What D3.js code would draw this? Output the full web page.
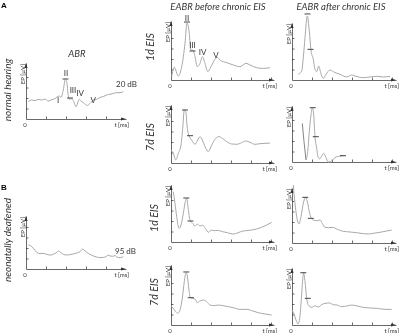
<!DOCTYPE html>
<html>
<head>
<meta charset="utf-8">
<script src="https://cdn.jsdelivr.net/npm/d3@7"></script>
<style>
  body { margin: 0; background: #fff; }
  svg { display: block; will-change: transform; }
  svg text { opacity: 0.99; }
</style>
</head>
<body>
<svg class="chart" width="400" height="333"></svg>
<script>
// waveforms: [time in ms, amplitude in µV units]
const abrNormal = [[0.23,1.65],[0.57,1.81],[0.9,1.75],[1.23,1.87],[1.57,1.81],[1.9,1.9],[2.23,1.71],[2.57,1.84],[2.9,1.94],[3.13,2.13],[3.33,2.19],[3.5,2.06],[3.73,2.76],[3.93,3.78],[4.07,3.56],[4.2,2.44],[4.33,1.87],[4.5,1.94],[4.73,1.75],[5.0,1.17],[5.2,1.65],[5.33,1.87],[5.5,1.71],[5.73,1.56],[6.13,1.3],[6.4,1.49],[6.73,1.81],[7.07,1.87],[7.4,2.06],[7.73,2.13],[8.07,2.29],[8.4,2.35],[8.73,2.44],[9.07,2.51],[9.4,2.51],[9.73,2.6]];
const abrDeaf = [[0.23,2.29],[0.47,2.22],[0.73,1.97],[1.07,1.59],[1.4,1.46],[1.73,1.49],[2.07,1.4],[2.4,1.33],[2.73,1.4],[3.07,1.59],[3.23,1.71],[3.5,1.56],[3.73,1.4],[4.07,1.33],[4.4,1.37],[4.73,1.43],[5.07,1.52],[5.4,1.65],[5.67,1.9],[5.8,1.81],[6.07,1.59],[6.4,1.4],[6.73,1.24],[7.07,1.14],[7.4,1.08],[7.73,1.11],[8.0,1.17],[8.2,1.33],[8.4,1.24],[8.73,1.21],[8.9,1.3],[9.07,1.14],[9.4,1.08],[9.73,1.17]];
const before1dA = [[0.07,0.32],[0.33,1.21],[0.73,0.38],[1.07,1.27],[1.4,3.49],[1.6,5.43],[1.83,4.44],[1.97,2.86],[2.17,2.86],[2.4,2.22],[2.63,1.27],[2.9,1.59],[3.13,2.22],[3.4,1.59],[3.67,0.79],[4.0,1.27],[4.4,1.97],[4.63,2.16],[4.9,1.9],[5.57,1.65],[6.23,1.43],[6.9,1.27],[7.5,1.59],[7.9,1.43],[8.57,1.17],[9.23,1.11],[9.9,1.17]];
const before7dA = [[0.0,1.24],[0.23,0.92],[0.47,0.29],[0.73,0.92],[1.0,1.71],[1.17,3.3],[1.33,5.05],[1.47,4.95],[1.63,3.3],[1.77,2.67],[2.07,2.19],[2.4,1.78],[2.67,2.19],[2.9,2.51],[3.13,2.19],[3.4,1.56],[3.73,1.08],[4.07,1.71],[4.47,2.35],[4.8,2.51],[5.13,2.35],[5.57,2.03],[6.07,1.81],[6.57,1.78],[7.07,1.94],[7.47,2.1],[7.9,1.97],[8.4,1.78],[8.9,1.84],[9.4,1.87],[9.9,1.9]];
const after1dA = [[0.63,0.54],[0.97,0.86],[1.13,2.12],[1.3,4.03],[1.53,6.1],[1.73,4.67],[1.9,2.83],[2.13,1.97],[2.3,1.02],[2.47,0.79],[2.67,1.33],[2.87,0.7],[3.13,0.16],[3.4,0.54],[3.8,0.95],[4.13,0.79],[4.8,0.54],[5.47,0.29],[5.97,0.48],[6.3,0.38],[7.13,0.22],[7.8,0.29],[8.47,0.35],[9.13,0.29],[9.8,0.35]];
const after7dAStart = [[1.03,3.68],[1.2,1.94],[1.4,0.19]];
const after7dA = [[1.4,0.19],[1.57,0.98],[1.73,2.89],[1.9,4.48],[2.03,5.17],[2.17,4.48],[2.3,2.41],[2.47,1.3],[2.6,0.5],[2.77,0.29],[2.93,0.5],[3.17,0.83],[3.4,0.41],[3.63,0.0],[3.87,0.03],[4.13,0.29],[4.47,0.5],[4.8,0.57],[5.13,0.6]];
const before1dB = [[0.23,4.79],[0.4,3.68],[0.57,2.41],[0.8,1.3],[0.97,1.52],[1.23,2.73],[1.43,3.84],[1.57,4.16],[1.73,3.11],[1.9,2.1],[2.17,1.78],[2.4,1.52],[2.63,1.71],[2.9,1.52],[3.17,1.59],[3.43,1.3],[3.77,0.92],[4.0,1.14],[4.33,1.08],[4.67,1.11],[5.17,0.98],[5.63,0.89],[6.17,0.76],[6.57,0.83],[7.07,1.02],[7.57,1.08],[8.07,1.14],[8.57,1.24],[9.07,1.4],[9.57,1.62],[10.07,1.87]];
const before7dB = [[0.0,1.81],[0.23,1.59],[0.47,1.27],[0.67,1.11],[0.9,1.43],[1.13,2.54],[1.33,4.13],[1.5,4.98],[1.63,4.67],[1.8,3.33],[1.93,2.6],[2.17,2.54],[2.43,2.44],[2.63,2.13],[2.9,2.29],[3.23,2.38],[3.57,2.22],[3.9,1.9],[4.23,1.84],[4.73,1.9],[5.23,1.84],[5.73,1.75],[6.23,1.65],[6.9,1.49],[7.57,1.49],[8.07,1.37],[8.73,1.17],[9.4,1.05],[10.07,0.95]];
const after1dB = [[0.13,5.52],[0.3,3.78],[0.47,2.5],[0.7,1.81],[0.9,2.5],[1.13,3.78],[1.37,4.35],[1.57,3.78],[1.73,2.98],[1.93,2.35],[2.13,2.19],[2.47,2.12],[2.8,2.19],[3.03,1.87],[3.3,1.49],[3.63,1.46],[4.07,1.49],[4.53,1.3],[5.13,1.11],[5.8,1.05],[6.47,0.98],[7.13,0.89],[7.63,0.86],[8.13,0.92],[8.8,1.02],[9.47,1.14],[9.97,1.24]];
const after7dB = [[0.0,1.43],[0.2,1.05],[0.4,0.48],[0.6,0.1],[0.77,0.63],[0.93,2.38],[1.1,4.6],[1.17,4.98],[1.3,4.13],[1.47,2.54],[1.7,1.81],[1.97,1.68],[2.3,1.84],[2.63,1.71],[2.97,1.94],[3.3,2.06],[3.73,2.1],[4.13,1.94],[4.53,1.9],[4.97,1.75],[5.47,1.81],[5.97,1.9],[6.53,1.81],[7.13,1.68],[7.8,1.62],[8.47,1.59],[9.3,1.49],[9.97,1.49]];

// latency markers (peak II and III), [ms, µV]
const abrNormalMarks = [[3.95,3.81],[4.4,2.0]];
const before1dAMarks = [[1.6,5.52],[2.15,2.76]];
const before7dAMarks = [[1.4,5.05],[1.9,2.6]];
const after1dAMarks = [[1.55,6.29],[1.85,2.92]];
const after7dAMarks = [[2.07,5.17],[2.38,2.41],[5.1,0.6]];
const before1dBMarks = [[1.53,4.19],[1.95,2.0]];
const before7dBMarks = [[1.53,5.05],[1.98,2.6]];
const after1dBMarks = [[1.33,4.35],[1.88,2.35]];
const after7dBMarks = [[1.13,4.98],[1.58,2.54]];

// wave names and label positions
const abrWaves = ["I", "II", "III", "IV", "V"];
const abrWavePos = [[3.2,1.52],[4.0,4.1],[4.7,2.48],[5.4,2.19],[6.73,1.52]];
const eabrWaves = ["II", "III", "IV", "V"];
const eabrWavePos = [[1.6,5.62],[2.15,3.05],[3.17,2.38],[4.5,2.1]];

const xTicks = [2, 4, 6, 8, 10];
const yTicks = [1, 2, 3, 4];

const svg = d3.select(".chart");
const textColor = "#333";
const font = "Lato, 'Open Sans', sans-serif";

function drawPanel(p) {
  const x = d3.scaleLinear().domain([0, (p.right - p.left) / 10]).range([p.left, p.right]);
  const y = d3.scaleLinear().domain([0, (p.bottom - p.top) / 10.5]).range([p.bottom, p.top]);
  const g = svg.append("g");

  // axes with inward ticks
  g.append("g").attr("transform", `translate(0,${p.bottom})`)
    .call(d3.axisBottom(x).tickValues(xTicks.filter(t => x(t) < p.right - 2))
      .tickSize(-2.5).tickSizeOuter(0).tickFormat(""));
  g.append("g").attr("transform", `translate(${p.left},0)`)
    .call(d3.axisLeft(y).tickValues(yTicks.filter(t => y(t) > p.top + 4))
      .tickSize(-2.5).tickSizeOuter(0).tickFormat(""));
  g.selectAll(".domain, .tick line").attr("stroke", "#444").attr("stroke-width", 0.8);

  // arrow heads
  g.append("path")
    .attr("d", `M${p.left - 1.6},${p.top + 5}L${p.left},${p.top}L${p.left + 1.6},${p.top + 5}Z`)
    .attr("fill", "#333");
  g.append("path")
    .attr("d", `M${p.right - 5},${p.bottom - 1.6}L${p.right},${p.bottom}L${p.right - 5},${p.bottom + 1.6}Z`)
    .attr("fill", "#333");

  g.append("text").attr("x", x(0) - 1).attr("y", p.bottom + 8)
    .attr("text-anchor", "middle").attr("font-size", 6).attr("fill", textColor).text("0");
  g.append("text").attr("x", p.right + 3).attr("y", p.bottom + 8)
    .attr("text-anchor", "end").attr("font-size", 6).attr("fill", textColor).text("t [ms]");
  g.append("text")
    .attr("transform", `translate(${p.left - 1.5},${p.top + 1}) rotate(-90)`)
    .attr("text-anchor", "end").attr("font-size", 6).attr("fill", textColor).text("EP [µV]");

  const line = d3.line().x(d => x(d[0])).y(d => y(d[1])).curve(d3.curveMonotoneX);
  if (p.pre) {
    g.append("path").datum(p.pre).attr("d", d3.line().x(d => x(d[0])).y(d => y(d[1])))
      .attr("fill", "none").attr("stroke", "#777").attr("stroke-width", 0.9);
  }
  g.append("path").datum(p.line).attr("d", line)
    .attr("fill", "none").attr("stroke", "#a8a8a8").attr("stroke-width", 1);

  g.selectAll(".mark").data(p.marks).join("line")
    .attr("x1", d => x(d[0]) - 3).attr("x2", d => x(d[0]) + 3)
    .attr("y1", d => y(d[1])).attr("y2", d => y(d[1]))
    .attr("stroke", "#444").attr("stroke-width", 1);

  if (p.waves) {
    g.selectAll(".wave").data(p.waves).join("text")
      .attr("x", (d, i) => x(p.wavePos[i][0])).attr("y", (d, i) => y(p.wavePos[i][1]))
      .attr("text-anchor", "middle").attr("font-size", 8).attr("fill", textColor)
      .text(d => d);
  }
  return g;
}

const panels = [
  {line: abrNormal, marks: abrNormalMarks, left: 26, top: 63, bottom: 119, right: 126, waves: abrWaves, wavePos: abrWavePos},
  {line: abrDeaf, marks: [], left: 26, top: 216, bottom: 269, right: 126},
  {line: before1dA, marks: before1dAMarks, left: 171, top: 21, bottom: 80, right: 274, waves: eabrWaves, wavePos: eabrWavePos},
  {line: before7dA, marks: before7dAMarks, left: 171, top: 105, bottom: 163, right: 274},
  {line: after1dA, marks: after1dAMarks, left: 292, top: 23, bottom: 80, right: 396},
  {line: after7dA, pre: after7dAStart, marks: after7dAMarks, left: 292, top: 106, bottom: 162, right: 396},
  {line: before1dB, marks: before1dBMarks, left: 171, top: 185, bottom: 242, right: 274},
  {line: before7dB, marks: before7dBMarks, left: 171, top: 265, bottom: 325, right: 274},
  {line: after1dB, marks: after1dBMarks, left: 292, top: 188, bottom: 243, right: 396},
  {line: after7dB, marks: after7dBMarks, left: 292, top: 268, bottom: 325, right: 396}
];
panels.forEach(drawPanel);

svg.selectAll("text").attr("font-family", font);

// panel letters
svg.append("text").attr("x", 1).attr("y", 8).attr("font-size", 8).attr("font-weight", "bold")
  .attr("font-family", "'Liberation Sans', Arial, sans-serif").text("A");
svg.append("text").attr("x", 1).attr("y", 190).attr("font-size", 8).attr("font-weight", "bold")
  .attr("font-family", "'Liberation Sans', Arial, sans-serif").text("B");

// column titles
const titles = [["ABR", 77, 57], ["EABR before chronic EIS", 218, 10], ["EABR after chronic EIS", 341, 10]];
titles.forEach(t => {
  svg.append("text").attr("x", t[1]).attr("y", t[2]).attr("text-anchor", "middle")
    .attr("font-size", 9.5).attr("font-style", "italic").attr("font-family", font)
    .attr("fill", textColor).text(t[0]);
});

// row labels (rotated)
const rowLabels = [["normal hearing", 7, 90, 10], ["neonatally deafened", 7, 240, 10],
  ["1d EIS", 150, 47, 10.5], ["7d EIS", 150, 137, 10.5], ["1d EIS", 154, 218, 10.5], ["7d EIS", 154, 292, 10.5]];
rowLabels.forEach(r => {
  svg.append("text").attr("transform", `translate(${r[1]},${r[2]}) rotate(-90)`)
    .attr("text-anchor", "middle").attr("dominant-baseline", "central")
    .attr("font-size", r[3]).attr("font-style", "italic").attr("font-family", font)
    .attr("fill", textColor).text(r[0]);
});

// stimulus levels
svg.append("text").attr("x", 116).attr("y", 87).attr("font-size", 8)
  .attr("font-family", font).attr("fill", textColor).text("20 dB");
svg.append("text").attr("x", 115).attr("y", 254).attr("font-size", 8)
  .attr("font-family", font).attr("fill", textColor).text("95 dB");
</script>
</body>
</html>
